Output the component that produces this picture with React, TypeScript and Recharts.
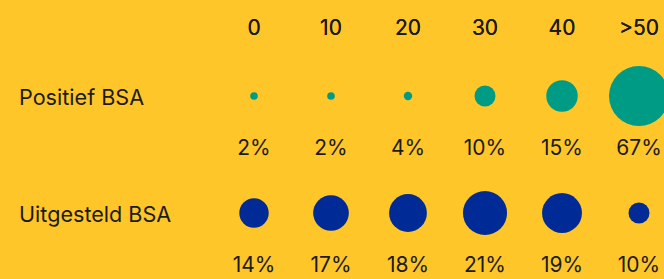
import React from "react";
import { ScatterChart, Scatter, XAxis, YAxis } from "recharts";

const buckets = ["0", "10", "20", "30", "40", ">50"];
const rowNames = ["Positief BSA", "Uitgesteld BSA"];
const positief = [2, 2, 4, 10, 15, 67];
const uitgesteld = [14, 17, 18, 21, 19, 10];

const positiefData = buckets.map((bucket, i) => ({
  bucket,
  row: rowNames[0],
  pct: positief[i],
}));
const uitgesteldData = buckets.map((bucket, i) => ({
  bucket,
  row: rowNames[1],
  pct: uitgesteld[i],
}));

const BG = "#FFC629";
const TEAL = "#009B84";
const NAVY = "#002A96";
const INK = "#1b1b1b";
const FONT = "Inter, 'Noto Sans', sans-serif";

// bubble radius grows with the share, capped so the big one still fits
const radius = (v: number) => Math.min(Math.max(v * 1.05, 3.8), 30);

function bubble(color: string) {
  return (props: any) => {
    const { cx, cy, payload } = props;
    return (
      <g>
        <circle cx={cx} cy={cy} r={radius(payload.pct)} fill={color} />
        <text
          x={cx}
          y={cy + 59}
          textAnchor="middle"
          fill={INK}
          fontSize={21}
          fontFamily={FONT}
        >
          {payload.pct}%
        </text>
      </g>
    );
  };
}

export default function App() {
  return (
    <div
      style={{
        position: "absolute",
        left: 0,
        top: 0,
        width: 664,
        height: 279,
        background: BG,
        overflow: "hidden",
      }}
    >
      <ScatterChart
        width={664}
        height={279}
        margin={{ top: 0, right: 25, bottom: 66, left: 0 }}
      >
        <XAxis
          dataKey="bucket"
          type="category"
          orientation="top"
          scale="point"
          allowDuplicatedCategory={false}
          height={96}
          axisLine={false}
          tickLine={false}
          tickSize={0}
          tickMargin={61}
          interval={0}
          tick={{ fill: INK, fontSize: 21, fontFamily: FONT }}
        />
        <YAxis
          dataKey="row"
          type="category"
          scale="point"
          reversed
          allowDuplicatedCategory={false}
          width={254}
          axisLine={false}
          tickLine={false}
          tickSize={0}
          tickMargin={235}
          interval={0}
          tick={{
            fill: INK,
            fontSize: 21.6,
            fontFamily: FONT,
            textAnchor: "start",
            dy: 1,
          }}
        />
        <Scatter
          data={positiefData}
          shape={bubble(TEAL)}
          isAnimationActive={false}
        />
        <Scatter
          data={uitgesteldData}
          shape={bubble(NAVY)}
          isAnimationActive={false}
        />
      </ScatterChart>
    </div>
  );
}
